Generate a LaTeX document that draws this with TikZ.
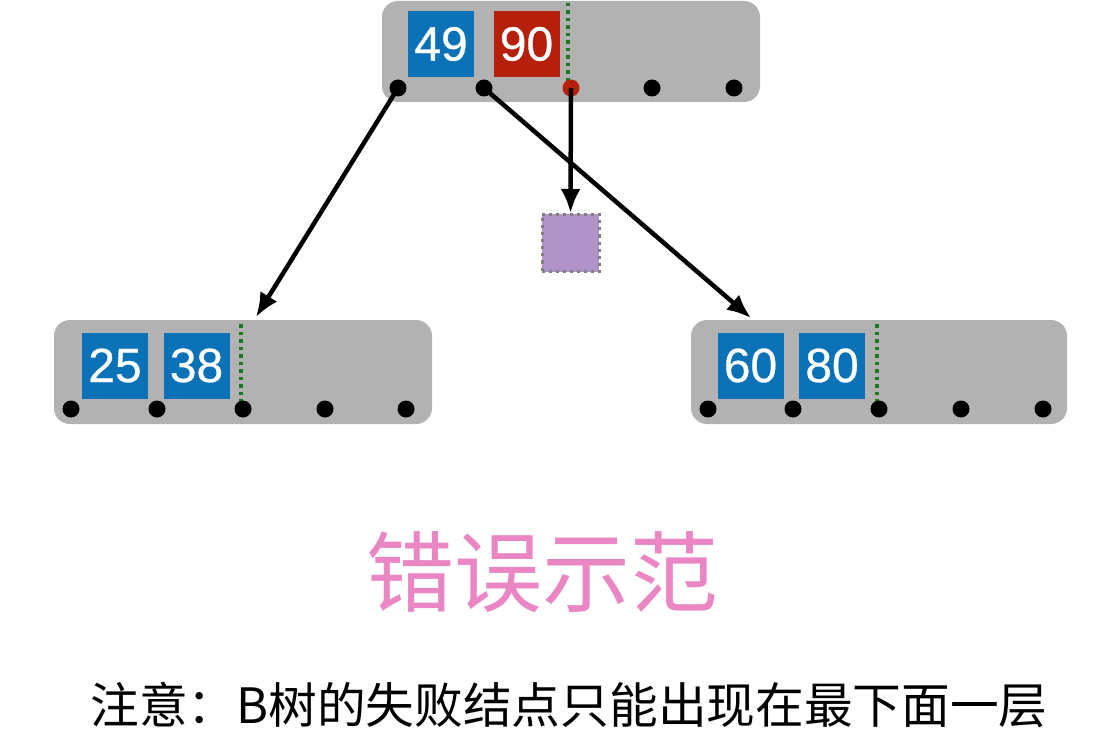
\documentclass[tikz,border=0pt]{standalone}
\usepackage{fontspec}
\setmainfont{Liberation Sans}
\newfontfamily\cjk{Noto Sans CJK SC}
\newfontfamily\keyfont[FakeBold=0.6]{Liberation Sans}
\usetikzlibrary{arrows.meta}
\definecolor{keyblue}{HTML}{0B72B8}
\definecolor{keyred}{HTML}{B51F0C}
\definecolor{nodegray}{HTML}{B2B2B2}
\definecolor{ptrgreen}{HTML}{1D7A1D}
\definecolor{failpurple}{HTML}{B094C9}
\definecolor{pinktext}{HTML}{EA86C4}
\tikzset{
  bnode/.style={fill=nodegray, rounded corners=16pt},
  keybox/.style={fill=#1, text=white, minimum width=66pt, minimum height=66pt, inner sep=0pt,
    font=\keyfont\fontsize{48}{48}\selectfont},
  ptr/.style={circle, fill=black, minimum size=17pt, inner sep=0pt},
  redptr/.style={circle, fill=keyred, minimum size=17pt, inner sep=0pt},
  sep/.style={draw=ptrgreen, line width=3.5pt, dash pattern=on 3.5pt off 4pt},
  link/.style={line width=4.5pt, -{Latex[length=24pt,width=20pt]}},
  failbox/.style={fill=failpurple, draw=gray, line width=3pt, dash pattern=on 3pt off 4pt, minimum width=57pt, minimum height=57pt, inner sep=0pt}
}
\begin{document}
\begin{tikzpicture}[x=1pt,y=-1pt]
\useasboundingbox (0,0) rectangle (1119,738);
% top node
\fill[bnode] (382,1) rectangle (760,102);
\node[keybox=keyblue] (k49) at (441,44) {49};
\node[keybox=keyred] (k90) at (526.5,44) {90};
\draw[sep] (568,3) -- (568,82);
\node[ptr] (t1) at (398,88) {};
\node[ptr] (t2) at (484,88) {};
\node[redptr] (t3) at (571,88) {};
\node[ptr] (t4) at (652,88) {};
\node[ptr] (t5) at (734,88) {};
% left node
\fill[bnode] (54,320) rectangle (432,424);
\node[keybox=keyblue] (k25) at (115,365.5) {25};
\node[keybox=keyblue] (k38) at (196.5,365.5) {38};
\draw[sep] (241,324) -- (241,401);
\node[ptr] (l1) at (71,409) {};
\node[ptr] (l2) at (157,409) {};
\node[ptr] (l3) at (243,409) {};
\node[ptr] (l4) at (325,409) {};
\node[ptr] (l5) at (406,409) {};
\coordinate (lin) at (256,317);
% right node
\fill[bnode] (691,320) rectangle (1067,424);
\node[keybox=keyblue] (k60) at (750.5,365.5) {60};
\node[keybox=keyblue] (k80) at (832,365.5) {80};
\draw[sep] (877,324) -- (877,401);
\node[ptr] (r1) at (708,409) {};
\node[ptr] (r2) at (793,409) {};
\node[ptr] (r3) at (879,409) {};
\node[ptr] (r4) at (961,409) {};
\node[ptr] (r5) at (1043,409) {};
\coordinate (rin) at (751,318);
% failure node
\node[failbox] (fail) at (570.5,243) {};
% links
\draw[link] (t1.center) -- (lin);
\draw[link] (t2.center) -- (rin);
\draw[link] (t3.center) -- (fail.north);
% texts
\node[text=pinktext, font=\cjk\fontsize{88}{88}\selectfont] (wrong) at (542,572) {错误示范};
\node[font=\cjk\fontsize{48.7}{48.7}\selectfont] (note) at (569,705) {注意：B树的失败结点只能出现在最下面一层};
\end{tikzpicture}
\end{document}
